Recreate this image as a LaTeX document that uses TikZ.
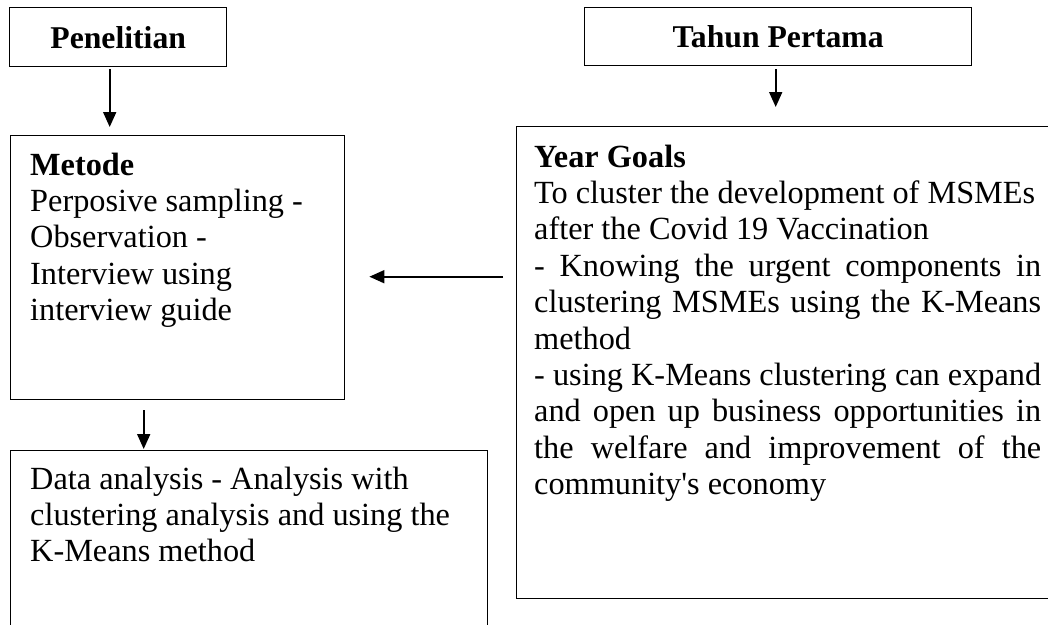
\documentclass[tikz,border=0pt]{standalone}
\usepackage{fontspec}
\setmainfont{Liberation Serif}[Ligatures=TeXOff]
\usetikzlibrary{arrows.meta}

\tikzset{
  box/.style={draw, line width=1.4pt, anchor=north west, inner sep=0pt},
  txt/.style={anchor=base west, inner sep=0pt},
  arr/.style={-{Triangle[length=15pt,width=13pt]}, line width=1.8pt}
}

\begin{document}
\begin{tikzpicture}[x=1pt, y=-1pt, font=\fontsize{32.3}{36.4}\selectfont]

      \useasboundingbox (0,0) rectangle (1048,624);
      \clip (0,0) rectangle (1048,624);

      % boxes
      \node[box, minimum width=217pt, minimum height=59pt, font=\fontsize{31.7}{36.4}\selectfont\bfseries] (pen) at (9,7) {Penelitian};
      \node[box, minimum width=387pt, minimum height=58pt, font=\fontsize{31.7}{36.4}\selectfont\bfseries] (tahun) at (584,7) {Tahun Pertama};
      \node[box, minimum width=334pt, minimum height=264pt] (metode) at (10,135) {};
      \node[box, minimum width=560pt, minimum height=472pt] (goals) at (516,126) {};
      \node[box, minimum width=477pt, minimum height=220pt] (data) at (10,450) {};

      % texts
      \node[txt, text width=300pt, align=flush left] (metodetxt) at (30,175)
        {\textbf{Metode}\\Perposive sampling -\\Observation -\\Interview using\\interview guide};
      \node[txt, text width=507pt, align=justify] (goalstxt) at (534,167)
        {\textbf{Year Goals}\\To cluster the development of MSMEs\\after the Covid 19 Vaccination\\- Knowing the urgent components in\linebreak clustering MSMEs using the K-Means\linebreak method\\- using K-Means clustering can expand\linebreak and open up business opportunities in\linebreak the welfare and improvement of the\linebreak community's economy};
      \node[txt, text width=450pt, align=flush left] (datatxt) at (30,489)
        {Data analysis - Analysis with\\clustering analysis and using the\\K-Means method};

      % arrows
      \draw[arr, shorten <=2pt, shorten >=8pt] ([xshift=-8.5pt]pen.south) -- ([xshift=-8.5pt]pen.south |- metode.north);
      \draw[arr, shorten <=3pt, shorten >=19pt] ([xshift=-2.5pt]tahun.south) -- ([xshift=-2.5pt]tahun.south |- goals.north);
      \draw[arr, shorten <=10pt, shorten >=1pt] ([xshift=-34pt]metode.south) -- ([xshift=-34pt]metode.south |- data.north);
      \draw[arr, shorten <=13pt, shorten >=24pt] ([yshift=-9pt]metode.east -| goals.west) -- ([yshift=-9pt]metode.east);

    \end{tikzpicture}
\end{document}
